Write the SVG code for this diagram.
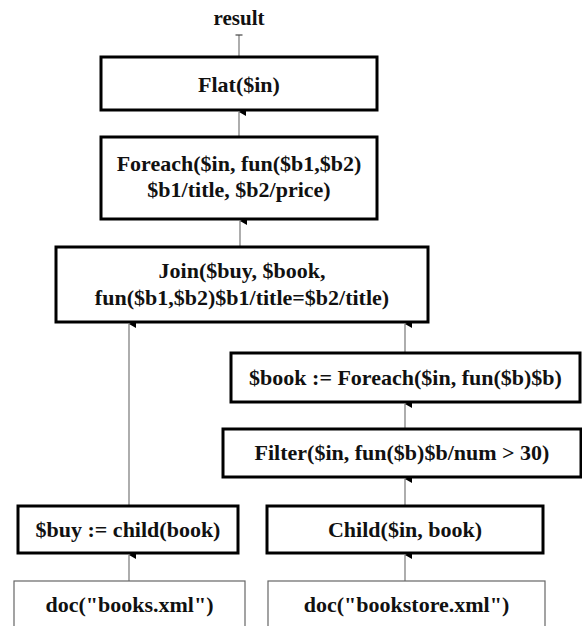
<svg xmlns="http://www.w3.org/2000/svg" width="582" height="626" viewBox="0 0 582 626">
<defs>
<style>
.box{fill:#fff;stroke:#000;stroke-width:3}
.doc{fill:#fff;stroke:#666;stroke-width:1.2}
.t{font-family:"Liberation Serif","Times New Roman",serif;font-weight:bold;font-size:22px;fill:#111;text-anchor:middle}
.c{stroke:#777;stroke-width:1.2;fill:none}
</style>
<marker id="ah" viewBox="0 0 8 7" refX="4" refY="0" markerWidth="8" markerHeight="7" markerUnits="userSpaceOnUse" orient="auto-start-reverse">
<path d="M0,7 L4,0 L8,7 Z" fill="#000"/>
</marker>
</defs>
<rect width="582" height="626" fill="#fff"/>
<g id="connectors">
<line class="c" x1="239" y1="57" x2="239" y2="35"/>
<line x1="235.5" y1="35" x2="242.5" y2="35" stroke="#444" stroke-width="1.2"/>
<line class="c" x1="239" y1="137" x2="239" y2="112" marker-end="url(#ah)"/>
<line class="c" x1="240" y1="247" x2="240" y2="221" marker-end="url(#ah)"/>
<line class="c" x1="129" y1="506" x2="129" y2="324" marker-end="url(#ah)"/>
<line class="c" x1="405" y1="353" x2="405" y2="324" marker-end="url(#ah)"/>
<line class="c" x1="405" y1="429" x2="405" y2="404" marker-end="url(#ah)"/>
<line class="c" x1="405" y1="506" x2="405" y2="479" marker-end="url(#ah)"/>
<line class="c" x1="129" y1="581" x2="129" y2="555" marker-end="url(#ah)"/>
<line class="c" x1="405" y1="581" x2="405" y2="555" marker-end="url(#ah)"/>
</g>
<g id="result"><text class="t" x="239" y="25" style="font-size:21px">result</text></g>
<g id="flat"><rect class="box" x="101" y="57" width="276" height="53"/><text class="t" x="239" y="92">Flat($in)</text></g>
<g id="foreach"><rect class="box" x="101" y="137" width="276" height="82"/><text class="t" x="239" y="171">Foreach($in, fun($b1,$b2)</text><text class="t" x="239" y="197">$b1/title, $b2/price)</text></g>
<g id="join"><rect class="box" x="56" y="247" width="372" height="75"/><text class="t" x="242" y="278">Join($buy, $book,</text><text class="t" x="242" y="305">fun($b1,$b2)$b1/title=$b2/title)</text></g>
<g id="book"><rect class="box" x="231" y="353" width="349" height="49"/><text class="t" x="405.5" y="385">$book := Foreach($in, fun($b)$b)</text></g>
<g id="filter"><rect class="box" x="223" y="429" width="358" height="48"/><text class="t" x="402" y="460">Filter($in, fun($b)$b/num &gt; 30)</text></g>
<g id="buy"><rect class="box" x="18" y="506" width="220" height="47"/><text class="t" x="128" y="537">$buy := child(book)</text></g>
<g id="child"><rect class="box" x="267" y="506" width="276" height="47"/><text class="t" x="405" y="537">Child($in, book)</text></g>
<g id="doc1"><rect class="doc" x="14" y="581" width="231" height="60"/><text class="t" x="129.5" y="612">doc("books.xml")</text></g>
<g id="doc2"><rect class="doc" x="268" y="581" width="277" height="60"/><text class="t" x="406.5" y="612">doc("bookstore.xml")</text></g>
</svg>
